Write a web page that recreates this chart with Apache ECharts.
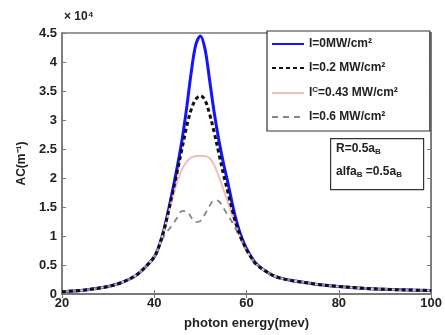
<!DOCTYPE html>
<html>
<head>
<meta charset="utf-8">
<script src="https://cdn.jsdelivr.net/npm/echarts@6/dist/echarts.min.js"></script>
<style>
  html, body { margin: 0; padding: 0; background: #fff; }
  #chart { width: 445px; height: 335px; }
</style>
</head>
<body>
<div id="chart"></div>
<script>
// Photon energy (meV) sample points
const energy = [20, 25, 30, 33, 36, 38, 40, 41, 42, 43, 44, 45, 46, 47, 48, 49, 50,
                51, 52, 53, 54, 55, 56, 57, 58, 59, 60, 61, 62, 64, 66, 68, 70, 75, 80, 85, 90, 95, 100];

// Absorption coefficient (×10^4 m^-1) for each intensity
const acI0 = [0.04, 0.07, 0.13, 0.20, 0.32, 0.46, 0.64, 0.82, 1.08, 1.42, 1.80, 2.20, 2.65, 3.20, 3.82, 4.30, 4.45,
              4.22, 3.68, 3.12, 2.65, 2.25, 1.90, 1.52, 1.20, 0.96, 0.78, 0.64, 0.53, 0.40, 0.31, 0.26, 0.23, 0.17, 0.13, 0.10, 0.08, 0.07, 0.06];
const acI02 = [0.04, 0.07, 0.13, 0.20, 0.32, 0.46, 0.64, 0.82, 1.07, 1.40, 1.76, 2.12, 2.50, 2.88, 3.18, 3.36, 3.42,
               3.34, 3.10, 2.78, 2.42, 2.06, 1.74, 1.42, 1.14, 0.93, 0.76, 0.63, 0.52, 0.40, 0.31, 0.26, 0.23, 0.17, 0.13, 0.10, 0.08, 0.07, 0.06];
const acI043 = [0.04, 0.07, 0.13, 0.20, 0.32, 0.46, 0.64, 0.82, 1.06, 1.36, 1.66, 1.94, 2.15, 2.28, 2.35, 2.38, 2.38,
                2.38, 2.34, 2.22, 2.02, 1.80, 1.57, 1.33, 1.10, 0.90, 0.75, 0.62, 0.52, 0.40, 0.31, 0.26, 0.23, 0.17, 0.13, 0.10, 0.08, 0.07, 0.06];
const acI06 = [0.04, 0.07, 0.13, 0.20, 0.32, 0.46, 0.63, 0.80, 0.98, 1.10, 1.20, 1.32, 1.43, 1.43, 1.32, 1.24, 1.26,
               1.38, 1.52, 1.62, 1.60, 1.48, 1.35, 1.22, 1.06, 0.90, 0.75, 0.62, 0.52, 0.40, 0.31, 0.26, 0.23, 0.17, 0.13, 0.10, 0.08, 0.07, 0.06];

const xTicks = [20, 40, 60, 80, 100];
const yTicks = [0, 0.5, 1, 1.5, 2, 2.5, 3, 3.5, 4, 4.5];

const seriesNames = ['I=0MW/cm²', 'I=0.2 MW/cm²', 'I^C=0.43 MW/cm²', 'I=0.6 MW/cm²'];

const pairs = ys => energy.map((e, i) => [e, ys[i]]);

const FONT = 'Liberation Sans';
const labelStyle = { fontFamily: FONT, fontSize: 13, fontWeight: 'bold', color: '#222' };
const axisColor = '#777';

const chart = echarts.init(document.getElementById('chart'), null, { renderer: 'canvas' });

chart.setOption({
  animation: false,
  backgroundColor: '#fff',
  grid: { left: 62, right: 13, top: 33, bottom: 38, show: true, borderColor: axisColor, borderWidth: 1.5, backgroundColor: '#fff' },
  xAxis: [{
    type: 'value', min: 20, max: 100, interval: 20,
    name: 'photon energy(mev)', nameLocation: 'middle', nameGap: 23,
    nameTextStyle: { fontFamily: FONT, fontSize: 13, fontWeight: 'bold', color: '#222' },
    axisLine: { show: true, lineStyle: { color: axisColor, width: 1.5 } },
    axisTick: { show: true, inside: true, length: 4, lineStyle: { color: axisColor } },
    splitLine: { show: false },
    axisLabel: Object.assign({ margin: 3, formatter: v => xTicks.includes(v) ? String(v) : '' }, labelStyle)
  }, {
    type: 'value', min: 20, max: 100, interval: 20, position: 'top',
    axisLine: { show: true, lineStyle: { color: axisColor, width: 1.5 } },
    axisTick: { show: true, inside: true, length: 4, lineStyle: { color: axisColor } },
    axisLabel: { show: false }, splitLine: { show: false }
  }],
  yAxis: [{
    type: 'value', min: 0, max: 4.5, interval: 0.5,
    name: 'AC(m⁻¹)', nameLocation: 'middle', nameGap: 33, nameRotate: 90,
    nameTextStyle: { fontFamily: FONT, fontSize: 12, fontWeight: 'bold', color: '#222' },
    axisLine: { show: true, lineStyle: { color: axisColor, width: 1.5 } },
    axisTick: { show: true, inside: true, length: 4, lineStyle: { color: axisColor } },
    splitLine: { show: false },
    axisLabel: Object.assign({ margin: 5, formatter: v => yTicks.includes(v) ? String(v) : '' }, labelStyle)
  }, {
    type: 'value', min: 0, max: 4.5, interval: 0.5, position: 'right',
    axisLine: { show: true, lineStyle: { color: axisColor, width: 1.5 } },
    axisTick: { show: true, inside: true, length: 4, lineStyle: { color: axisColor } },
    axisLabel: { show: false }, splitLine: { show: false }
  }],
  legend: {
    orient: 'vertical', left: 267, top: 31,
    padding: [7, 32, 8, 4], itemGap: 12, itemWidth: 32, itemHeight: 14,
    backgroundColor: '#fff', borderColor: '#333', borderWidth: 1.2,
    itemStyle: { opacity: 0 },
    data: seriesNames,
    formatter: name => name.startsWith('I^C') ? '{t|I}{s|C}{t|=0.43 MW/cm²}' : '{t|' + name + '}',
    textStyle: {
      fontFamily: FONT, fontSize: 12, fontWeight: 'bold', color: '#222',
      rich: {
        t: { fontFamily: FONT, fontSize: 12, fontWeight: 'bold', color: '#222' },
        s: { fontFamily: FONT, fontSize: 8, fontWeight: 'bold', color: '#222', verticalAlign: 'top', padding: [0, 0, 6, 0] }
      }
    }
  },
  graphic: [
    {
      type: 'text', left: 64, top: 11,
      style: { text: '× 10⁴', fontFamily: FONT, fontSize: 12, fontWeight: 'bold', fill: '#222' }
    },
    {
      type: 'rect', left: 330, top: 138,
      shape: { width: 93, height: 51 },
      style: { fill: '#fff', stroke: '#333', lineWidth: 1.2 }
    },
    {
      type: 'text', left: 336, top: 143,
      style: {
        text: '{t|R=0.5a}{b|B}',
        rich: {
          t: { fontFamily: FONT, fontSize: 12, fontWeight: 'bold', fill: '#222' },
          b: { fontFamily: FONT, fontSize: 8, fontWeight: 'bold', fill: '#222', verticalAlign: 'bottom', padding: [6, 0, 0, 0] }
        }
      }
    },
    {
      type: 'text', left: 336, top: 166,
      style: {
        text: '{t|alfa}{b|B}{t| =0.5a}{b|B}',
        rich: {
          t: { fontFamily: FONT, fontSize: 12, fontWeight: 'bold', fill: '#222' },
          b: { fontFamily: FONT, fontSize: 8, fontWeight: 'bold', fill: '#222', verticalAlign: 'bottom', padding: [6, 0, 0, 0] }
        }
      }
    }
  ],
  series: [
    {
      name: seriesNames[0], type: 'line', data: pairs(acI0), showSymbol: false, symbol: 'none', smooth: 0.35,
      lineStyle: { color: '#1414ff', width: 3 }, itemStyle: { color: '#1414ff' }, z: 2
    },
    {
      name: seriesNames[2], type: 'line', data: pairs(acI043), showSymbol: false, symbol: 'none', smooth: 0.35,
      lineStyle: { color: '#eebfbf', width: 2 }, itemStyle: { color: '#eebfbf' }, z: 3
    },
    {
      name: seriesNames[3], type: 'line', data: pairs(acI06), showSymbol: false, symbol: 'none', smooth: 0.35,
      lineStyle: { color: '#808a84', width: 1.8, type: [6, 5] }, itemStyle: { color: '#808a84' }, z: 4
    },
    {
      name: seriesNames[1], type: 'line', data: pairs(acI02), showSymbol: false, symbol: 'none', smooth: 0.35,
      lineStyle: { color: '#111', width: 3, type: [4, 3] }, itemStyle: { color: '#111' }, z: 5
    }
  ]
});
</script>
</body>
</html>
